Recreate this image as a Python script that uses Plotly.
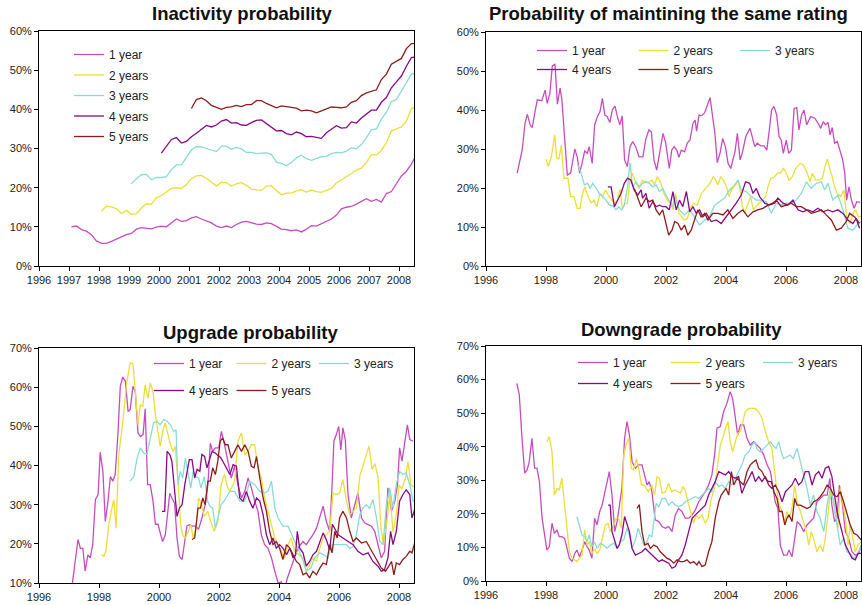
import plotly.graph_objects as go

# ---------------- data ----------------
SERIES_NAMES = ["1 year", "2 years", "3 years", "4 years", "5 years"]
COLORS = ["#C54DBE", "#EBDF3C", "#8ADBD5", "#870A87", "#8C1D1D"]
TITLES = ["Inactivity probability", "Probability of maintining the same rating",
          "Upgrade probability", "Downgrade probability"]
YEARS_1 = list(range(1996, 2009))
YEARS_2 = list(range(1996, 2009, 2))
PCT_0_60 = [0, 10, 20, 30, 40, 50, 60]
PCT_10_70 = [10, 20, 30, 40, 50, 60, 70]
PCT_0_70 = [0, 10, 20, 30, 40, 50, 60, 70]

# Inactivity probability: bimonthly readings (start year, values in %)
INACT_STEP = 1 / 6
INACT_1Y_START = 1997.08
INACT_1Y = [10.0, 10.2, 9.3, 8.9, 8.0, 6.4,
            5.8, 5.8, 6.3, 6.9, 7.4, 8.0,
            8.3, 9.4, 9.8, 9.6, 9.5, 9.9,
            10.2, 10.0, 11.0, 12.0, 11.4, 11.6,
            12.3, 12.6, 12.0, 11.6, 11.0, 10.2,
            9.8, 10.2, 9.8, 10.6, 11.2, 11.4,
            11.0, 10.7, 10.6, 11.0, 10.8, 10.2,
            9.4, 9.3, 9.0, 9.2, 8.7, 9.4,
            10.3, 10.2, 10.8, 11.6, 12.0, 13.0,
            14.6, 15.0, 15.2, 15.8, 16.5, 17.2,
            16.5, 17.0, 16.3, 18.5, 19.0, 21.0,
            23.0, 24.2, 26.0, 28.5, 27.3]
INACT_2Y_START = 1998.08
INACT_2Y = [14.0, 15.3, 15.1, 14.6, 13.4, 14.2,
            13.2, 13.4, 14.8, 15.9, 15.8, 17.4,
            18.0, 18.8, 19.8, 20.0, 19.8, 20.8,
            22.3, 23.0, 23.1, 22.4, 21.4, 20.4,
            21.4, 21.3, 20.4, 21.0, 21.3, 20.6,
            19.6, 19.4, 19.3, 20.4, 20.5, 19.3,
            18.2, 18.6, 18.6, 19.2, 19.5, 18.9,
            19.4, 19.0, 18.8, 19.3, 19.8, 21.2,
            22.0, 22.6, 23.6, 24.5, 25.0, 26.4,
            28.5, 28.3, 29.5, 31.5, 34.5, 35.0,
            35.5, 37.0, 40.2, 40.6]
INACT_3Y_START = 1999.08
INACT_3Y = [21.0, 22.3, 23.3, 23.4, 22.0, 22.6,
            22.6, 22.8, 24.6, 25.8, 25.8, 27.6,
            29.6, 30.5, 30.4, 30.0, 29.6, 29.2,
            30.6, 30.6, 29.8, 30.3, 29.9, 29.0,
            29.0, 28.7, 28.8, 28.9, 28.5, 26.5,
            26.2, 25.6, 26.4, 27.6, 28.3, 27.4,
            27.0, 27.4, 27.9, 28.0, 28.7, 29.0,
            28.9, 29.3, 30.2, 29.9, 31.0, 32.8,
            34.8, 35.0, 37.5, 39.2, 42.0, 42.5,
            44.6, 46.8, 49.0, 49.3]
INACT_4Y_START = 2000.08
INACT_4Y = [28.8, 30.5, 32.3, 32.8, 31.4, 31.8,
            33.0, 33.9, 34.8, 35.9, 35.5, 36.0,
            37.0, 37.4, 36.5, 36.6, 36.0, 35.9,
            36.6, 37.2, 37.3, 36.4, 35.5, 34.5,
            34.6, 33.8, 33.5, 34.2, 33.8, 33.0,
            33.1, 32.9, 32.6, 34.0, 34.8, 35.8,
            35.2, 35.3, 36.8, 36.5, 37.8, 38.8,
            39.8, 39.8, 41.8, 43.0, 45.5, 47.0,
            48.5, 51.0, 53.2, 53.4]
INACT_5Y_START = 2001.08
INACT_5Y = [40.2, 42.5, 42.9, 42.2, 41.0, 40.4,
            40.0, 40.5, 40.6, 41.0, 40.7, 41.2,
            41.2, 42.2, 42.2, 41.5, 41.0, 40.4,
            40.9, 40.7, 40.4, 40.3, 39.6, 39.8,
            39.6, 39.1, 39.6, 40.0, 40.6, 40.5,
            40.4, 40.6, 41.8, 42.2, 43.5, 44.2,
            44.6, 45.0, 47.6, 49.0, 51.5, 52.2,
            53.0, 55.5, 56.8, 56.8]

# Other panels: (decimal year, %) readings
SAME_1Y = [(1997.04,23.8),(1997.21,29.9),(1997.30,36.6),(1997.38,38.9),(1997.47,36.2),(1997.54,35.5),(1997.62,39.0),(1997.71,42.6),(1997.86,42.4),(1997.97,45.1),(1998.04,41.7),(1998.13,44.3),(1998.21,51.3),(1998.30,51.7),(1998.38,41.5),(1998.47,45.6),(1998.53,42.6),(1998.71,23.3),(1998.82,23.8),(1998.96,30.0),(1999.04,28.0),(1999.12,23.8),(1999.20,26.3),(1999.29,29.5),(1999.38,28.9),(1999.44,30.6),(1999.54,26.3),(1999.62,36.1),(1999.71,38.3),(1999.80,39.6),(1999.88,43.0),(1999.96,38.7),(2000.04,38.3),(2000.13,36.8),(2000.21,40.0),(2000.30,41.0),(2000.38,38.3),(2000.46,36.2),(2000.54,38.5),(2000.62,27.2),(2000.71,25.5),(2000.80,30.6),(2000.89,31.9),(2000.99,30.6),(2001.10,28.0),(2001.23,28.0),(2001.32,32.3),(2001.43,34.9),(2001.51,34.4),(2001.60,27.2),(2001.69,24.6),(2001.80,29.7),(2001.90,34.0),(2001.99,31.5),(2002.11,25.0),(2002.19,29.7),(2002.27,30.6),(2002.36,29.7),(2002.43,27.9),(2002.51,29.7),(2002.62,29.3),(2002.71,31.5),(2002.80,32.3),(2002.90,36.6),(2002.97,37.4),(2003.02,34.6),(2003.10,38.7),(2003.18,38.5),(2003.29,39.3),(2003.38,41.3),(2003.47,43.2),(2003.54,39.1),(2003.63,34.0),(2003.71,26.5),(2003.80,28.9),(2003.89,32.7),(2003.98,30.6),(2004.07,26.3),(2004.16,25.0),(2004.23,27.2),(2004.30,29.3),(2004.38,34.0),(2004.47,27.2),(2004.54,28.9),(2004.66,33.2),(2004.80,35.3),(2004.88,33.2),(2004.96,30.6),(2005.04,31.5),(2005.16,30.8),(2005.27,30.8),(2005.36,29.7),(2005.43,34.0),(2005.52,40.0),(2005.60,40.9),(2005.69,38.7),(2005.77,33.2),(2005.84,32.3),(2005.91,28.9),(2006.01,32.3),(2006.09,28.9),(2006.18,29.7),(2006.27,40.4),(2006.36,40.6),(2006.43,34.9),(2006.52,38.7),(2006.60,40.0),(2006.69,36.2),(2006.82,38.3),(2006.96,37.9),(2007.07,36.6),(2007.16,35.3),(2007.24,37.0),(2007.32,36.2),(2007.40,36.8),(2007.47,33.6),(2007.54,35.5),(2007.62,31.5),(2007.71,31.9),(2007.80,29.7),(2007.89,27.2),(2007.96,23.8),(2008.02,16.9),(2008.10,20.3),(2008.18,16.9),(2008.27,14.8),(2008.36,16.5),(2008.47,16.3)]
SAME_2Y = [(1998.00,27.4),(1998.08,25.5),(1998.18,28.0),(1998.29,33.6),(1998.36,27.6),(1998.43,27.4),(1998.51,31.0),(1998.60,22.5),(1998.73,22.5),(1998.82,17.8),(1998.93,17.8),(1999.04,14.8),(1999.13,14.8),(1999.21,18.2),(1999.29,20.3),(1999.40,17.8),(1999.51,16.1),(1999.60,16.9),(1999.69,15.2),(1999.80,18.6),(1999.88,17.8),(1999.99,19.5),(2000.10,17.8),(2000.21,16.9),(2000.29,16.1),(2000.38,16.9),(2000.47,19.7),(2000.54,14.8),(2000.63,15.9),(2000.71,16.1),(2000.80,22.0),(2000.88,23.8),(2000.99,21.4),(2001.10,19.9),(2001.21,22.0),(2001.32,21.4),(2001.43,21.6),(2001.54,22.0),(2001.62,20.8),(2001.71,22.9),(2001.82,21.4),(2001.93,18.6),(2002.04,16.9),(2002.16,16.1),(2002.24,14.4),(2002.32,18.6),(2002.43,13.5),(2002.60,11.8),(2002.71,12.2),(2002.82,15.2),(2002.93,16.1),(2003.04,15.6),(2003.18,18.6),(2003.32,19.9),(2003.43,20.8),(2003.58,22.9),(2003.66,22.0),(2003.73,20.8),(2003.82,22.9),(2003.91,22.0),(2004.02,20.3),(2004.10,17.8),(2004.21,19.9),(2004.32,20.8),(2004.40,22.0),(2004.47,19.5),(2004.54,15.6),(2004.62,13.5),(2004.73,16.1),(2004.82,17.8),(2004.91,14.4),(2004.99,15.2),(2005.10,16.1),(2005.21,16.9),(2005.32,17.8),(2005.40,20.3),(2005.49,22.5),(2005.60,22.7),(2005.71,23.8),(2005.82,23.8),(2005.91,25.0),(2005.99,24.2),(2006.10,22.0),(2006.21,22.9),(2006.32,25.0),(2006.47,26.3),(2006.58,25.9),(2006.69,24.2),(2006.80,21.6),(2006.88,23.8),(2006.99,22.0),(2007.10,22.0),(2007.21,22.5),(2007.30,25.5),(2007.38,27.4),(2007.47,24.6),(2007.54,22.9),(2007.62,20.3),(2007.71,18.6),(2007.82,17.8),(2007.93,19.5),(2008.02,12.6),(2008.13,10.9),(2008.24,13.5),(2008.32,14.4),(2008.41,12.6),(2008.49,12.8)]
SAME_3Y = [(1999.06,25.9),(1999.17,23.8),(1999.28,20.8),(1999.39,21.2),(1999.47,19.9),(1999.56,21.2),(1999.67,19.9),(1999.78,18.6),(1999.89,17.8),(2000.00,16.9),(2000.11,15.6),(2000.22,15.4),(2000.33,14.4),(2000.42,15.2),(2000.53,14.4),(2000.61,15.6),(2000.72,20.3),(2000.80,26.5),(2000.89,20.3),(2001.00,21.6),(2001.11,20.3),(2001.22,21.2),(2001.33,21.6),(2001.44,21.2),(2001.56,20.3),(2001.67,20.8),(2001.78,19.1),(2001.89,19.9),(2002.00,18.2),(2002.12,16.5),(2002.22,15.2),(2002.29,17.8),(2002.45,14.4),(2002.62,13.1),(2002.79,14.4),(2002.95,12.6),(2003.12,10.5),(2003.29,11.8),(2003.45,12.6),(2003.62,15.6),(2003.79,16.5),(2003.95,17.4),(2004.12,19.5),(2004.29,20.8),(2004.40,22.0),(2004.51,19.5),(2004.68,19.1),(2004.84,17.8),(2005.01,16.9),(2005.18,16.9),(2005.34,16.5),(2005.51,13.5),(2005.68,16.1),(2005.84,15.6),(2006.01,16.1),(2006.18,16.1),(2006.34,16.9),(2006.51,18.6),(2006.68,21.6),(2006.84,19.9),(2007.01,21.2),(2007.18,21.6),(2007.29,19.5),(2007.40,21.2),(2007.56,16.9),(2007.73,18.2),(2007.90,14.4),(2008.06,9.7),(2008.23,9.2),(2008.40,10.9),(2008.52,11.4)]
SAME_4Y = [(2000.06,20.3),(2000.17,20.3),(2000.28,15.2),(2000.39,16.9),(2000.50,18.6),(2000.61,21.2),(2000.72,22.5),(2000.83,22.0),(2000.94,19.5),(2001.06,18.2),(2001.17,19.5),(2001.22,17.4),(2001.33,18.6),(2001.44,14.8),(2001.56,16.5),(2001.67,15.2),(2001.78,15.6),(2001.89,15.2),(2002.00,15.2),(2002.11,14.4),(2002.23,19.1),(2002.34,14.4),(2002.45,16.9),(2002.56,15.2),(2002.68,19.1),(2002.79,13.9),(2002.90,15.2),(2003.01,13.5),(2003.12,14.4),(2003.23,12.6),(2003.34,13.5),(2003.51,11.4),(2003.68,11.8),(2003.84,10.9),(2004.01,12.6),(2004.18,14.4),(2004.34,16.1),(2004.51,18.2),(2004.65,21.6),(2004.79,21.2),(2004.90,18.6),(2005.01,19.9),(2005.12,17.8),(2005.29,16.1),(2005.45,15.6),(2005.62,16.1),(2005.73,17.4),(2005.90,16.1),(2006.06,15.6),(2006.23,16.9),(2006.40,14.4),(2006.56,13.9),(2006.73,14.4),(2006.90,13.9),(2007.06,14.8),(2007.23,13.9),(2007.40,14.4),(2007.56,13.9),(2007.73,14.4),(2007.90,13.5),(2008.06,11.8),(2008.23,10.9),(2008.34,12.2),(2008.45,9.7)]
SAME_5Y = [(2000.94,19.9),(2001.06,17.4),(2001.17,15.2),(2001.24,16.1),(2001.33,17.4),(2001.44,16.5),(2001.56,16.9),(2001.67,14.4),(2001.78,13.1),(2001.89,14.4),(2002.00,10.9),(2002.09,7.9),(2002.20,9.2),(2002.29,11.4),(2002.40,10.9),(2002.51,9.2),(2002.62,10.5),(2002.73,7.9),(2002.84,9.2),(2002.95,11.8),(2003.06,14.4),(2003.17,12.6),(2003.29,13.5),(2003.40,11.8),(2003.56,13.5),(2003.73,13.5),(2003.90,13.1),(2004.06,14.4),(2004.23,12.2),(2004.40,13.5),(2004.56,14.4),(2004.73,12.6),(2004.90,13.9),(2005.06,14.4),(2005.23,14.8),(2005.40,15.6),(2005.56,16.1),(2005.68,16.9),(2005.84,15.2),(2006.01,15.6),(2006.18,16.1),(2006.34,15.2),(2006.51,15.2),(2006.68,14.4),(2006.84,13.5),(2007.01,13.9),(2007.18,14.4),(2007.34,13.1),(2007.51,11.8),(2007.68,9.2),(2007.84,9.7),(2008.01,11.4),(2008.12,13.5),(2008.29,12.6),(2008.45,10.9)]

UP_1Y = [(1997.08,8.0),(1997.21,16.4),(1997.30,21.1),(1997.38,18.8),(1997.46,18.9),(1997.54,13.1),(1997.63,17.2),(1997.71,16.4),(1997.79,19.8),(1997.88,31.3),(1997.97,32.6),(1998.04,43.4),(1998.13,38.5),(1998.21,25.7),(1998.30,30.9),(1998.38,37.2),(1998.46,36.0),(1998.54,37.7),(1998.63,47.9),(1998.71,60.2),(1998.79,62.6),(1998.88,61.5),(1998.97,53.8),(1999.04,54.3),(1999.13,60.2),(1999.21,58.9),(1999.30,48.3),(1999.38,47.4),(1999.47,47.9),(1999.54,54.5),(1999.62,35.1),(1999.71,35.1),(1999.80,30.9),(1999.88,25.0),(1999.97,25.0),(2000.04,22.8),(2000.12,20.6),(2000.21,22.3),(2000.29,27.4),(2000.36,32.9),(2000.43,31.7),(2000.52,30.4),(2000.60,21.5),(2000.68,16.8),(2000.77,16.0),(2000.84,19.8),(2000.93,24.5),(2001.01,24.9),(2001.12,24.5),(2001.23,24.5),(2001.32,23.7),(2001.43,26.6),(2001.54,30.0),(2001.63,35.1),(2001.71,45.7),(2001.79,43.6),(2001.88,44.5),(2001.99,44.5),(2002.08,48.7),(2002.16,46.2),(2002.27,41.9),(2002.34,39.0),(2002.41,36.8),(2002.52,39.8),(2002.63,35.1),(2002.75,31.7),(2002.86,33.4),(2002.97,36.8),(2003.08,34.3),(2003.19,30.9),(2003.30,28.3),(2003.41,22.3),(2003.52,19.8),(2003.63,18.9),(2003.75,16.4),(2003.86,13.0),(2003.97,10.0),(2004.08,10.3),(2004.17,7.9),(2004.28,11.3),(2004.39,13.8),(2004.50,16.4),(2004.63,18.9),(2004.80,20.6),(2004.91,19.8),(2005.02,21.1),(2005.13,22.3),(2005.25,24.0),(2005.36,26.6),(2005.47,29.6),(2005.58,25.7),(2005.69,23.2),(2005.77,35.1),(2005.83,46.2),(2005.91,47.9),(2005.99,50.0),(2006.06,44.0),(2006.13,49.6),(2006.21,46.6),(2006.30,32.6),(2006.41,26.6),(2006.52,30.0),(2006.63,33.0),(2006.75,26.6),(2006.86,25.3),(2006.97,24.9),(2007.08,24.5),(2007.19,23.2),(2007.30,19.8),(2007.41,16.4),(2007.52,18.1),(2007.63,34.3),(2007.75,28.3),(2007.86,30.9),(2007.95,35.1),(2008.02,44.5),(2008.10,41.1),(2008.19,45.3),(2008.28,50.4),(2008.36,46.6),(2008.47,46.2)]
UP_2Y = [(1998.08,17.2),(1998.16,16.8),(1998.23,18.1),(1998.32,24.5),(1998.41,28.3),(1998.49,31.3),(1998.57,24.0),(1998.66,42.8),(1998.77,49.6),(1998.86,57.2),(1998.93,61.5),(1999.04,66.2),(1999.13,66.0),(1999.21,58.9),(1999.30,50.4),(1999.38,55.5),(1999.46,55.1),(1999.54,60.6),(1999.63,57.2),(1999.71,61.1),(1999.80,58.9),(1999.88,53.0),(1999.97,48.7),(2000.04,44.9),(2000.12,48.7),(2000.21,50.9),(2000.30,47.9),(2000.38,45.3),(2000.47,43.6),(2000.54,44.9),(2000.66,33.0),(2000.72,24.9),(2000.80,22.0),(2000.88,21.5),(2000.98,23.2),(2001.06,24.9),(2001.14,21.5),(2001.23,23.7),(2001.32,31.7),(2001.40,30.4),(2001.51,27.0),(2001.62,28.3),(2001.73,25.7),(2001.84,23.2),(2001.96,25.7),(2002.07,35.1),(2002.18,37.7),(2002.29,34.3),(2002.36,33.4),(2002.52,36.0),(2002.63,46.2),(2002.75,48.3),(2002.86,42.8),(2002.97,43.6),(2003.08,45.3),(2003.19,45.3),(2003.30,39.4),(2003.41,36.8),(2003.52,31.7),(2003.63,28.3),(2003.75,24.9),(2003.86,21.5),(2003.97,19.8),(2004.08,18.1),(2004.19,16.4),(2004.30,19.8),(2004.41,21.5),(2004.52,18.1),(2004.66,17.2),(2004.80,16.4),(2004.91,13.0),(2005.02,14.7),(2005.13,16.4),(2005.25,15.5),(2005.36,18.9),(2005.47,21.5),(2005.58,22.3),(2005.69,23.2),(2005.80,33.0),(2005.91,32.6),(2006.02,33.0),(2006.13,36.4),(2006.25,30.9),(2006.36,27.4),(2006.47,28.3),(2006.58,29.1),(2006.70,37.5),(2006.85,41.0),(2007.00,45.0),(2007.10,39.0),(2007.20,40.5),(2007.30,37.0),(2007.40,24.0),(2007.48,19.8),(2007.60,26.0),(2007.70,33.0),(2007.80,23.0),(2007.92,28.0),(2008.00,35.0),(2008.10,34.0),(2008.22,37.0),(2008.30,41.0),(2008.40,35.0),(2008.50,34.5)]
UP_3Y = [(1999.04,36.0),(1999.16,37.2),(1999.27,41.9),(1999.38,44.5),(1999.49,43.2),(1999.60,42.8),(1999.71,47.0),(1999.82,50.9),(1999.93,51.3),(2000.04,50.4),(2000.16,51.7),(2000.27,51.3),(2000.38,50.4),(2000.49,48.7),(2000.57,49.1),(2000.63,35.1),(2000.71,38.5),(2000.79,36.8),(2000.88,41.9),(2000.98,37.7),(2001.06,34.3),(2001.14,38.5),(2001.23,37.2),(2001.32,36.8),(2001.40,34.3),(2001.51,37.2),(2001.62,30.9),(2001.70,29.6),(2001.79,29.1),(2001.88,24.0),(2001.96,26.6),(2002.07,30.0),(2002.18,31.0),(2002.36,33.4),(2002.52,33.4),(2002.69,30.9),(2002.86,30.9),(2003.02,36.0),(2003.19,35.1),(2003.36,33.4),(2003.52,33.0),(2003.63,33.4),(2003.75,36.0),(2003.86,29.1),(2003.97,26.6),(2004.13,24.5),(2004.30,24.5),(2004.47,21.5),(2004.63,18.9),(2004.77,16.4),(2004.91,13.0),(2005.06,13.8),(2005.19,16.4),(2005.36,17.7),(2005.50,17.2),(2005.63,16.4),(2005.77,19.8),(2005.91,19.8),(2006.08,19.8),(2006.25,19.8),(2006.36,18.8),(2006.47,19.4),(2006.58,22.3),(2006.69,27.4),(2006.80,29.1),(2006.91,30.0),(2007.02,29.1),(2007.13,31.3),(2007.25,26.6),(2007.36,20.6),(2007.47,19.8),(2007.58,30.0),(2007.69,34.3),(2007.80,29.1),(2007.91,35.1),(2008.02,38.5),(2008.13,37.7),(2008.24,38.1),(2008.36,35.1),(2008.47,30.9),(2008.52,31.0)]
UP_4Y = [(2000.10,28.3),(2000.19,28.3),(2000.27,43.6),(2000.36,42.8),(2000.43,41.1),(2000.52,33.4),(2000.60,27.0),(2000.68,29.1),(2000.77,30.0),(2000.86,35.1),(2000.93,37.7),(2001.01,41.5),(2001.10,41.5),(2001.19,36.8),(2001.27,39.0),(2001.36,38.5),(2001.43,42.8),(2001.52,42.3),(2001.60,39.4),(2001.69,42.0),(2001.77,43.6),(2001.87,43.2),(2001.94,42.8),(2002.06,42.0),(2002.19,40.2),(2002.36,37.7),(2002.47,40.2),(2002.58,39.8),(2002.69,31.7),(2002.80,30.9),(2002.91,33.4),(2003.02,30.9),(2003.13,29.1),(2003.25,31.7),(2003.36,30.9),(2003.47,27.4),(2003.58,22.3),(2003.69,19.8),(2003.80,21.5),(2003.91,18.9),(2004.02,19.8),(2004.13,18.9),(2004.25,17.2),(2004.36,18.9),(2004.47,16.4),(2004.55,17.2),(2004.61,23.2),(2004.69,18.9),(2004.80,17.7),(2004.91,14.3),(2005.02,15.5),(2005.13,17.2),(2005.25,18.1),(2005.36,20.2),(2005.47,22.8),(2005.58,21.0),(2005.69,18.5),(2005.78,25.0),(2005.86,24.0),(2005.97,22.3),(2006.13,21.5),(2006.30,20.6),(2006.47,19.8),(2006.63,18.1),(2006.80,17.2),(2006.97,17.7),(2007.13,15.5),(2007.30,14.3),(2007.41,13.0),(2007.52,13.4),(2007.63,16.4),(2007.72,23.2),(2007.80,19.8),(2007.91,23.2),(2008.02,30.9),(2008.13,32.6),(2008.24,33.8),(2008.36,32.6),(2008.43,26.6),(2008.52,28.7)]
UP_5Y = [(2001.10,21.1),(2001.19,21.5),(2001.30,29.1),(2001.38,29.1),(2001.46,31.7),(2001.54,30.0),(2001.63,36.0),(2001.71,36.0),(2001.79,39.4),(2001.88,37.7),(2001.96,41.1),(2002.04,46.2),(2002.12,47.0),(2002.21,45.3),(2002.30,45.3),(2002.41,41.9),(2002.52,43.6),(2002.63,45.3),(2002.75,43.6),(2002.86,45.3),(2002.97,43.6),(2003.08,39.8),(2003.17,39.4),(2003.25,42.3),(2003.36,36.8),(2003.47,31.7),(2003.58,28.3),(2003.69,23.2),(2003.80,19.8),(2003.91,20.6),(2004.02,18.9),(2004.13,16.0),(2004.25,19.8),(2004.36,18.9),(2004.47,17.2),(2004.58,15.5),(2004.69,14.7),(2004.80,12.1),(2004.91,12.6),(2005.02,11.3),(2005.13,13.0),(2005.25,12.1),(2005.36,13.8),(2005.47,15.1),(2005.58,14.7),(2005.69,19.8),(2005.77,17.7),(2005.86,23.2),(2005.94,21.5),(2006.02,26.6),(2006.13,28.3),(2006.25,26.6),(2006.36,23.2),(2006.47,20.6),(2006.58,21.5),(2006.75,20.2),(2006.91,20.6),(2007.08,18.1),(2007.25,16.0),(2007.41,13.8),(2007.55,13.0),(2007.66,14.3),(2007.75,15.5),(2007.83,12.1),(2007.91,15.1),(2008.02,14.7),(2008.13,16.0),(2008.24,16.8),(2008.36,18.1),(2008.43,17.7),(2008.52,20.2)]

DOWN_1Y = [(1997.03,58.9),(1997.11,55.4),(1997.20,42.5),(1997.29,32.1),(1997.37,33.1),(1997.44,35.5),(1997.53,42.5),(1997.62,33.6),(1997.70,33.6),(1997.78,29.6),(1997.87,18.7),(1997.96,12.7),(1998.03,9.2),(1998.11,10.2),(1998.20,17.2),(1998.28,14.2),(1998.37,15.2),(1998.44,13.2),(1998.53,13.2),(1998.62,12.7),(1998.70,9.2),(1998.78,6.8),(1998.87,5.8),(1998.96,8.2),(1999.03,9.2),(1999.12,7.2),(1999.20,9.2),(1999.29,11.7),(1999.37,10.2),(1999.44,9.2),(1999.53,6.8),(1999.62,18.7),(1999.70,16.7),(1999.79,20.7),(1999.87,22.6),(1999.96,26.6),(2000.03,30.1),(2000.11,32.6),(2000.20,25.6),(2000.29,14.7),(2000.37,17.7),(2000.44,21.6),(2000.53,27.6),(2000.62,42.5),(2000.70,47.5),(2000.78,43.5),(2000.87,35.5),(2000.98,33.6),(2001.09,34.6),(2001.20,34.6),(2001.29,31.6),(2001.37,28.6),(2001.44,29.6),(2001.53,26.6),(2001.64,18.2),(2001.76,17.7),(2001.87,16.2),(2001.98,15.7),(2002.09,16.2),(2002.20,14.7),(2002.31,19.7),(2002.42,21.6),(2002.53,20.7),(2002.64,18.7),(2002.76,18.7),(2002.87,19.7),(2002.98,21.2),(2003.09,23.6),(2003.20,25.1),(2003.31,26.6),(2003.42,28.6),(2003.53,31.6),(2003.62,37.5),(2003.70,45.5),(2003.81,46.0),(2003.92,50.4),(2004.03,52.9),(2004.14,56.4),(2004.22,54.4),(2004.31,48.5),(2004.39,43.5),(2004.48,46.5),(2004.59,46.5),(2004.70,42.5),(2004.81,40.5),(2004.92,41.5),(2005.03,40.5),(2005.14,39.5),(2005.26,37.5),(2005.37,34.6),(2005.48,32.6),(2005.56,28.6),(2005.64,23.6),(2005.73,21.6),(2005.81,10.7),(2005.92,7.7),(2006.03,7.7),(2006.10,9.2),(2006.20,7.2),(2006.29,12.7),(2006.37,17.7),(2006.48,16.7),(2006.59,14.7),(2006.70,16.7),(2006.81,17.7),(2006.92,18.7),(2007.03,23.6),(2007.14,24.6),(2007.26,25.6),(2007.37,25.6),(2007.46,30.6),(2007.53,22.6),(2007.62,17.7),(2007.70,18.7),(2007.78,28.6),(2007.87,23.6),(2007.98,14.7),(2008.09,12.7),(2008.20,8.7),(2008.31,7.7),(2008.42,8.2),(2008.51,10.7)]
DOWN_2Y = [(1998.03,41.5),(1998.11,43.0),(1998.20,38.5),(1998.28,25.6),(1998.37,27.6),(1998.44,27.1),(1998.53,30.6),(1998.62,22.6),(1998.70,14.7),(1998.78,8.7),(1998.87,6.8),(1998.96,6.3),(1999.03,5.8),(1999.12,6.8),(1999.20,7.7),(1999.29,15.2),(1999.37,10.7),(1999.44,11.7),(1999.53,8.2),(1999.62,9.7),(1999.70,8.2),(1999.79,9.2),(1999.89,12.7),(1999.98,16.7),(2000.07,17.2),(2000.14,14.7),(2000.26,16.7),(2000.34,18.7),(2000.42,18.7),(2000.51,15.7),(2000.59,37.5),(2000.67,40.5),(2000.76,42.5),(2000.84,33.6),(2000.92,33.1),(2001.01,36.5),(2001.09,33.6),(2001.18,28.6),(2001.26,28.6),(2001.33,27.6),(2001.42,26.6),(2001.53,28.6),(2001.62,25.6),(2001.70,31.1),(2001.78,30.6),(2001.87,26.1),(2001.98,26.6),(2002.09,29.1),(2002.18,26.6),(2002.29,27.1),(2002.40,26.6),(2002.48,26.1),(2002.56,28.1),(2002.64,27.1),(2002.73,23.6),(2002.81,20.7),(2002.92,17.2),(2003.00,19.7),(2003.09,18.7),(2003.20,19.7),(2003.31,17.2),(2003.40,18.7),(2003.51,24.6),(2003.62,27.6),(2003.70,32.6),(2003.81,40.5),(2003.89,42.5),(2003.98,45.5),(2004.07,47.5),(2004.14,41.5),(2004.22,38.5),(2004.31,41.5),(2004.39,44.0),(2004.48,44.5),(2004.56,47.5),(2004.64,50.4),(2004.76,51.4),(2004.87,51.4),(2004.98,51.4),(2005.09,50.4),(2005.20,48.5),(2005.31,44.5),(2005.42,41.5),(2005.53,39.5),(2005.62,32.6),(2005.70,26.6),(2005.78,22.6),(2005.87,20.7),(2005.96,17.7),(2006.03,20.7),(2006.10,18.7),(2006.20,21.6),(2006.29,28.6),(2006.37,23.6),(2006.48,20.7),(2006.59,17.7),(2006.68,14.7),(2006.76,10.7),(2006.84,14.7),(2006.92,12.7),(2007.03,8.7),(2007.14,10.7),(2007.23,8.7),(2007.31,12.7),(2007.40,19.7),(2007.48,26.6),(2007.57,24.6),(2007.64,20.7),(2007.73,15.7),(2007.81,27.6),(2007.90,22.6),(2007.98,18.7),(2008.07,10.7),(2008.14,16.7),(2008.23,12.7),(2008.31,8.7),(2008.40,10.7),(2008.51,11.7)]
DOWN_3Y = [(1999.03,19.2),(1999.12,16.2),(1999.20,13.7),(1999.29,13.2),(1999.37,11.7),(1999.44,13.7),(1999.53,10.2),(1999.62,11.7),(1999.70,9.7),(1999.81,11.2),(1999.92,10.7),(2000.03,9.7),(2000.14,10.7),(2000.26,11.2),(2000.37,9.7),(2000.48,11.7),(2000.59,12.2),(2000.70,15.7),(2000.78,13.7),(2000.87,9.7),(2000.98,12.2),(2001.07,15.7),(2001.14,13.7),(2001.26,10.7),(2001.37,11.7),(2001.44,13.7),(2001.53,13.2),(2001.62,18.7),(2001.67,23.1),(2001.76,22.1),(2001.87,24.6),(2001.98,24.6),(2002.09,22.6),(2002.20,23.6),(2002.31,22.6),(2002.42,22.1),(2002.53,22.6),(2002.64,23.6),(2002.76,24.1),(2002.87,24.6),(2002.98,25.1),(2003.09,24.6),(2003.20,25.6),(2003.31,26.6),(2003.42,27.6),(2003.53,26.6),(2003.64,29.6),(2003.76,28.1),(2003.87,28.6),(2003.98,27.6),(2004.09,29.6),(2004.20,28.6),(2004.31,30.6),(2004.42,32.6),(2004.53,34.6),(2004.64,37.5),(2004.76,38.5),(2004.87,40.5),(2004.96,41.5),(2005.03,39.5),(2005.14,38.5),(2005.26,39.5),(2005.37,40.5),(2005.48,41.5),(2005.56,40.5),(2005.67,39.5),(2005.76,41.5),(2005.84,38.5),(2005.92,36.5),(2006.03,37.0),(2006.14,37.5),(2006.24,36.5),(2006.37,39.5),(2006.48,35.5),(2006.59,31.6),(2006.70,27.6),(2006.81,22.6),(2006.92,25.6),(2007.03,20.7),(2007.14,18.7),(2007.26,14.7),(2007.37,22.6),(2007.48,27.6),(2007.59,23.6),(2007.70,16.7),(2007.81,10.7),(2007.92,12.7),(2008.03,8.7),(2008.14,8.2),(2008.26,6.8),(2008.37,7.7),(2008.51,10.7)]
DOWN_4Y = [(2000.07,22.6),(2000.14,22.6),(2000.20,14.7),(2000.29,11.7),(2000.37,9.7),(2000.44,10.7),(2000.53,13.7),(2000.62,19.2),(2000.70,17.2),(2000.78,14.7),(2000.87,9.7),(2000.98,7.7),(2001.09,8.2),(2001.20,8.7),(2001.31,9.7),(2001.42,8.7),(2001.53,7.7),(2001.64,6.8),(2001.76,5.8),(2001.87,6.3),(2001.98,5.8),(2002.09,5.3),(2002.20,3.8),(2002.31,4.3),(2002.42,6.3),(2002.53,7.7),(2002.64,10.7),(2002.76,14.7),(2002.87,18.7),(2002.98,19.7),(2003.09,20.7),(2003.20,21.6),(2003.31,22.6),(2003.42,25.6),(2003.53,27.6),(2003.64,29.6),(2003.76,32.6),(2003.87,32.1),(2003.98,31.6),(2004.09,32.6),(2004.20,31.1),(2004.31,30.6),(2004.42,31.1),(2004.53,26.1),(2004.64,28.6),(2004.76,30.6),(2004.87,32.6),(2004.98,29.6),(2005.09,31.1),(2005.20,29.6),(2005.31,31.1),(2005.42,28.6),(2005.53,27.6),(2005.64,28.6),(2005.76,26.6),(2005.87,23.6),(2005.98,26.6),(2006.09,27.6),(2006.20,28.6),(2006.31,30.6),(2006.42,28.6),(2006.53,29.6),(2006.64,32.6),(2006.76,32.6),(2006.87,28.6),(2006.98,31.6),(2007.09,32.6),(2007.20,30.6),(2007.31,33.6),(2007.42,34.1),(2007.53,31.1),(2007.62,25.6),(2007.70,20.7),(2007.78,17.7),(2007.87,14.7),(2007.98,10.7),(2008.09,8.7),(2008.20,6.8),(2008.31,6.3),(2008.40,8.2),(2008.51,8.2)]
DOWN_5Y = [(2001.03,21.6),(2001.11,22.8),(2001.20,14.7),(2001.29,10.7),(2001.40,11.2),(2001.48,9.7),(2001.59,10.7),(2001.70,10.2),(2001.81,8.7),(2001.92,7.7),(2002.03,6.8),(2002.14,6.3),(2002.26,5.3),(2002.37,6.3),(2002.48,5.8),(2002.59,5.8),(2002.70,6.3),(2002.81,5.3),(2002.92,5.8),(2003.03,4.8),(2003.10,5.8),(2003.20,4.3),(2003.31,4.8),(2003.42,8.7),(2003.53,11.7),(2003.64,18.7),(2003.76,23.6),(2003.84,25.6),(2003.92,26.6),(2004.00,27.6),(2004.09,25.6),(2004.18,32.6),(2004.26,28.6),(2004.37,30.6),(2004.48,29.6),(2004.59,28.6),(2004.70,32.6),(2004.81,34.6),(2004.92,35.5),(2005.00,36.0),(2005.09,33.6),(2005.20,32.6),(2005.31,30.6),(2005.42,29.6),(2005.51,29.6),(2005.60,26.6),(2005.70,24.6),(2005.78,20.7),(2005.87,20.7),(2005.96,16.7),(2006.03,18.7),(2006.10,19.7),(2006.20,17.7),(2006.29,24.6),(2006.37,22.6),(2006.48,22.6),(2006.59,22.1),(2006.70,21.6),(2006.81,22.1),(2006.92,23.6),(2007.03,24.1),(2007.14,25.1),(2007.26,26.6),(2007.37,28.6),(2007.48,27.6),(2007.59,25.6),(2007.70,25.1),(2007.81,26.6),(2007.92,23.6),(2008.03,19.7),(2008.14,16.7),(2008.26,14.2),(2008.37,13.7),(2008.51,12.2)]

# ---------------- figure ----------------
W, H = 862, 605
FONT = "Liberation Sans, Arial, Helvetica, sans-serif"


def fx(px):
    return px / W


def fy(py):
    return 1 - py / H


def grid(start, vals):
    return [start + INACT_STEP * i for i in range(len(vals))], vals


def pairs(p):
    return [a for a, _ in p], [b for _, b in p]


panels = [
    dict(series=[grid(INACT_1Y_START, INACT_1Y), grid(INACT_2Y_START, INACT_2Y),
                 grid(INACT_3Y_START, INACT_3Y), grid(INACT_4Y_START, INACT_4Y),
                 grid(INACT_5Y_START, INACT_5Y)],
         xd=[fx(39), fx(414)], yd=[fy(266), fy(31)], yr=[0, 60], yt=PCT_0_60, xt=YEARS_1,
         legends=["legend"] * 5),
    dict(series=[pairs(s) for s in (SAME_1Y, SAME_2Y, SAME_3Y, SAME_4Y, SAME_5Y)],
         xd=[fx(486), fx(861)], yd=[fy(266), fy(32)], yr=[0, 60], yt=PCT_0_60, xt=YEARS_2,
         legends=["legend2"] * 3 + ["legend3"] * 2),
    dict(series=[pairs(s) for s in (UP_1Y, UP_2Y, UP_3Y, UP_4Y, UP_5Y)],
         xd=[fx(39), fx(414)], yd=[fy(583), fy(348)], yr=[10, 70], yt=PCT_10_70, xt=YEARS_2,
         legends=["legend4"] * 3 + ["legend5"] * 2),
    dict(series=[pairs(s) for s in (DOWN_1Y, DOWN_2Y, DOWN_3Y, DOWN_4Y, DOWN_5Y)],
         xd=[fx(486), fx(861)], yd=[fy(581), fy(346)], yr=[0, 70], yt=PCT_0_70, xt=YEARS_2,
         legends=["legend6"] * 3 + ["legend7"] * 2),
]

fig = go.Figure()
layout = {}
for k, p in enumerate(panels):
    n = "" if k == 0 else str(k + 1)
    for j, (xs, ys) in enumerate(p["series"]):
        fig.add_trace(go.Scatter(
            x=xs, y=ys, mode="lines", name=SERIES_NAMES[j],
            line=dict(color=COLORS[j], width=1.3),
            xaxis="x" + n, yaxis="y" + n, legend=p["legends"][j],
            legendgroup=f"p{k}s{j}", hoverinfo="skip"))
    axis_common = dict(showline=True, linecolor="#000", linewidth=1, mirror=True,
                       ticks="outside", ticklen=4, tickwidth=1, tickcolor="#000",
                       showgrid=False, zeroline=False, automargin=False,
                       tickfont=dict(family=FONT, size=11, color="#222"))
    layout["xaxis" + n] = dict(domain=p["xd"], range=[1996, 2008.5], tickmode="array",
                               tickvals=p["xt"], ticktext=[str(v) for v in p["xt"]],
                               anchor="y" + n, **axis_common)
    layout["yaxis" + n] = dict(domain=p["yd"], range=p["yr"], tickmode="array",
                               tickvals=p["yt"], ticktext=[f"{v}%" for v in p["yt"]],
                               anchor="x" + n, **axis_common)

leg_font = dict(family=FONT, size=12, color="#222")


def hleg(xpx, ypx, ew):
    return dict(x=fx(xpx), y=fy(ypx), xanchor="left", yanchor="top", orientation="h",
                entrywidth=ew, entrywidthmode="pixels", bgcolor="rgba(0,0,0,0)",
                font=leg_font, tracegroupgap=0, itemclick=False, itemdoubleclick=False)


layout["legend"] = dict(x=fx(69), y=fy(40), xanchor="left", yanchor="top", orientation="v",
                        bgcolor="rgba(0,0,0,0)", font=leg_font, tracegroupgap=1.5,
                        itemclick=False, itemdoubleclick=False)
layout["legend2"] = hleg(532, 36, 56.5)
layout["legend3"] = hleg(532, 55, 56.5)
layout["legend4"] = hleg(149, 349, 37.5)
layout["legend5"] = hleg(149, 376, 37.5)
layout["legend6"] = hleg(573, 348, 47.5)
layout["legend7"] = hleg(573, 369, 47.5)

title_pos = [(242.5, 14), (668, 14), (250, 332), (681, 329)]
annotations = []
for t, (xp, yp) in zip(TITLES, title_pos):
    annotations.append(dict(text=f"<b>{t}</b>", x=fx(xp), y=fy(yp), xref="paper", yref="paper",
                            xanchor="center", yanchor="middle", showarrow=False,
                            font=dict(family=FONT, size=18.5, color="#111")))

fig.update_layout(width=W, height=H, margin=dict(l=0, r=0, t=0, b=0, autoexpand=False),
                  paper_bgcolor="white", plot_bgcolor="white", showlegend=True,
                  annotations=annotations, **layout)

fig.write_html("out.html", config={"displayModeBar": False},
               post_script="document.body.style.margin='0';")
